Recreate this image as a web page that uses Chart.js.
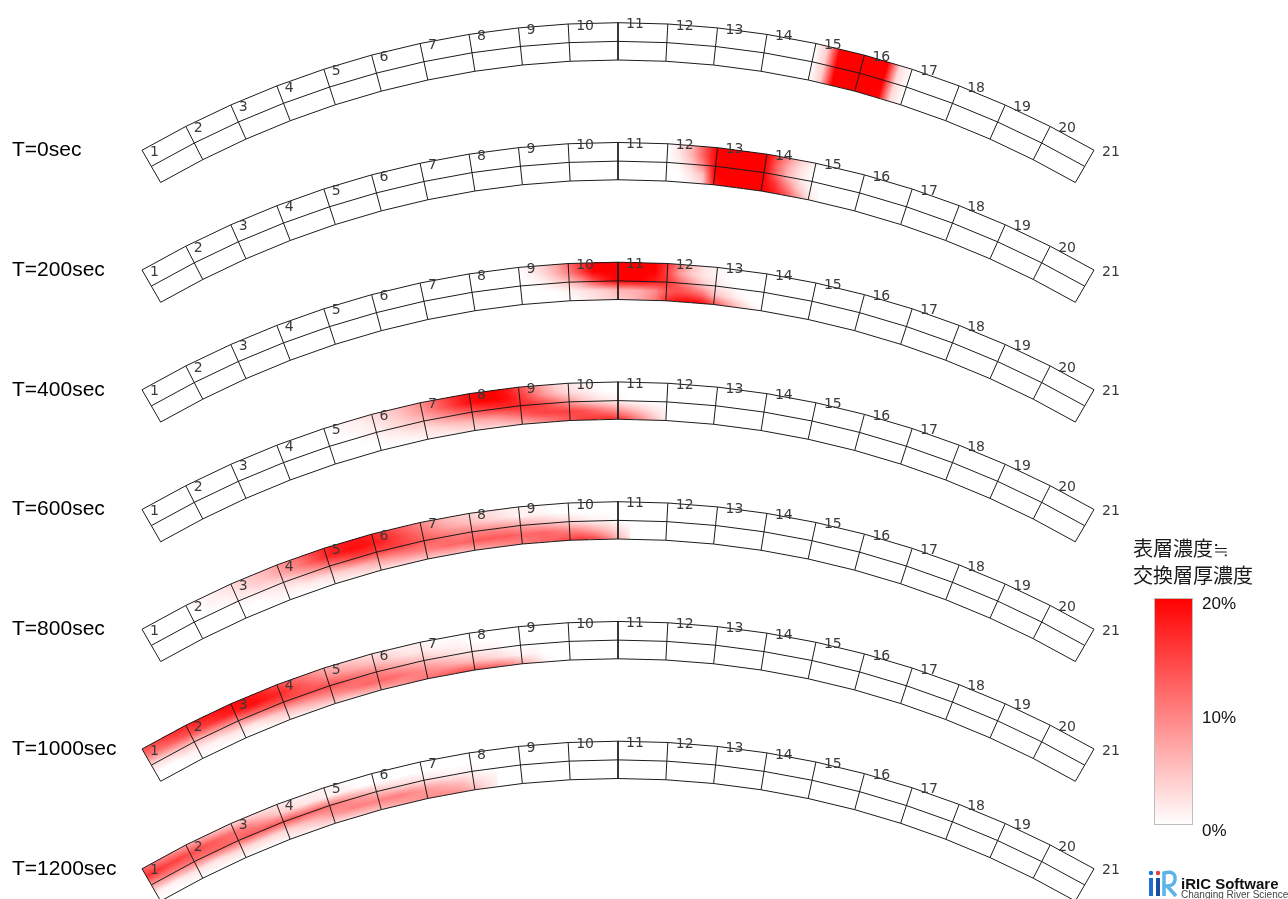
<!DOCTYPE html>
<html lang="ja">
<head>
<meta charset="UTF-8">
<title>表層濃度≒交換層厚濃度</title>
<script src="https://cdn.jsdelivr.net/npm/chart.js"></script>
<style>
  html, body { margin: 0; padding: 0; background: #fff; }
  #wrap { width: 1288px; height: 899px; position: relative; }
</style>
</head>
<body>
<div id="wrap"><canvas id="bend"></canvas></div>
<script>
// ---- data ----
const times = [0, 200, 400, 600, 800, 1000, 1200];
const timeLabels = ['T=0sec', 'T=200sec', 'T=400sec', 'T=600sec', 'T=800sec', 'T=1000sec', 'T=1200sec'];
const nodeLabels = ['1','2','3','4','5','6','7','8','9','10','11','12','13','14','15','16','17','18','19','20','21'];
const scaleTicks = [0, 10, 20];
const scaleTickLabels = ['0%', '10%', '20%'];
const maxConc = 20;

// concentration (%) read per snapshot, stations every 1/4 cell (node k = station 4(k-1)),
// rows: outer bank, 1/4, centre line, 3/4, inner bank
const start0 = 56;
const conc0 = [
  [0, 4, 20, 20, 20, 20, 20, 3, 0],
  [0, 4, 20, 20, 20, 20, 20, 3, 0],
  [0, 4, 20, 20, 20, 20, 20, 3, 0],
  [0, 4, 20, 20, 20, 20, 20, 3, 0],
  [0, 4, 20, 20, 20, 20, 20, 3, 0]
];
const start200 = 44;
const conc200 = [
  [0, 2, 6, 13, 20, 20, 20, 20, 20, 14, 8, 3, 1, 0],
  [0, 2, 6, 13, 20, 20, 20, 20, 20, 12, 6, 2, 0, 0],
  [0, 1, 4, 10, 20, 20, 20, 20, 20, 12, 5, 2, 0, 0],
  [0, 0, 2, 5, 20, 20, 20, 20, 20, 16, 10, 4, 1, 0],
  [0, 0, 1, 3, 18, 20, 20, 20, 20, 18, 14, 8, 2, 0]
];
const start400 = 32;
const conc400 = [
  [0, 2, 4, 7, 12, 16, 20, 20, 20, 20, 20, 20, 16, 10, 5, 2, 1, 0, 0, 0, 0, 0],
  [0, 1, 3, 6, 10, 15, 20, 20, 20, 20, 20, 20, 15, 8, 4, 2, 1, 0, 0, 0, 0, 0],
  [0, 0, 1, 3, 5, 8, 14, 18, 20, 20, 20, 18, 16, 12, 8, 4, 2, 1, 0, 0, 0, 0],
  [0, 0, 0, 0, 1, 2, 3, 4, 6, 6, 7, 9, 13, 14, 13, 11, 5, 3, 1, 0, 0, 0],
  [0, 0, 0, 0, 0, 1, 2, 3, 4, 5, 7, 10, 16, 19, 20, 19, 14, 9, 5, 2, 0, 0]
];
const start600 = 16;
const conc600 = [
  [0, 1, 1, 2, 3, 4, 5, 7, 9, 12, 15, 17, 19, 20, 20, 18, 14, 10, 6, 3, 2, 1, 0, 0, 0, 0, 0, 0, 0],
  [0, 0, 1, 1, 2, 3, 4, 6, 8, 11, 14, 17, 19, 20, 20, 19, 16, 12, 8, 5, 3, 2, 1, 0, 0, 0, 0, 0, 0],
  [0, 0, 0, 1, 1, 2, 3, 4, 5, 7, 9, 11, 13, 15, 16, 17, 17, 16, 14, 11, 8, 5, 3, 2, 1, 0, 0, 0, 0],
  [0, 0, 0, 0, 0, 1, 1, 2, 2, 3, 4, 5, 6, 7, 8, 10, 12, 14, 15, 15, 15, 14, 12, 10, 8, 6, 4, 2, 1],
  [0, 0, 0, 0, 0, 0, 0, 0, 1, 1, 1, 2, 2, 3, 3, 4, 5, 7, 9, 11, 13, 15, 16, 17, 16, 13, 9, 5, 1]
];
const start800 = 4;
const conc800 = [
  [0, 1, 1, 2, 3, 4, 5, 6, 8, 10, 12, 15, 17, 18, 18, 18, 17, 15, 13, 11, 9, 7, 5, 4, 3, 2, 2, 1, 1, 1, 0, 0, 0, 0, 0, 0, 0, 0],
  [0, 0, 1, 1, 2, 3, 4, 5, 7, 9, 11, 14, 17, 18, 19, 19, 18, 17, 15, 13, 11, 9, 7, 6, 5, 4, 3, 2, 1, 1, 1, 0, 0, 0, 0, 0, 0, 0],
  [0, 0, 0, 0, 1, 1, 2, 2, 3, 4, 6, 8, 10, 12, 14, 15, 15, 15, 15, 14, 13, 12, 11, 10, 10, 9, 9, 8, 7, 6, 5, 4, 3, 2, 1, 1, 0, 0],
  [0, 0, 0, 0, 0, 0, 0, 1, 1, 1, 2, 2, 3, 4, 5, 6, 7, 8, 9, 10, 10, 11, 12, 12, 13, 13, 13, 13, 12, 12, 12, 11, 10, 9, 7, 5, 3, 1],
  [0, 0, 0, 0, 0, 0, 0, 0, 0, 0, 0, 0, 1, 1, 1, 2, 2, 2, 3, 3, 4, 4, 5, 5, 6, 7, 8, 9, 10, 11, 12, 13, 15, 16, 15, 11, 6, 2]
];
const start1000 = 0;
const conc1000 = [
  [14, 15, 16, 17, 17, 18, 18, 19, 19, 19, 18, 16, 14, 12, 10, 8, 6, 5, 4, 3, 2, 2, 1, 1, 1, 0, 0, 0, 0, 0, 0, 0, 0, 0, 0, 0],
  [10, 11, 12, 13, 14, 15, 16, 17, 18, 19, 19, 18, 17, 15, 13, 11, 9, 8, 7, 6, 5, 4, 3, 2, 2, 1, 1, 1, 0, 0, 0, 0, 0, 0, 0, 0],
  [3, 3, 4, 5, 5, 6, 7, 8, 9, 11, 12, 13, 14, 14, 14, 14, 14, 13, 12, 11, 10, 8, 7, 6, 5, 4, 3, 2, 2, 1, 1, 0, 0, 0, 0, 0],
  [0, 0, 0, 1, 1, 1, 1, 2, 2, 2, 3, 4, 5, 6, 7, 8, 9, 10, 11, 12, 12, 12, 11, 10, 9, 8, 7, 6, 5, 4, 3, 2, 1, 1, 0, 0],
  [0, 0, 0, 0, 0, 0, 0, 0, 0, 0, 0, 1, 1, 1, 2, 2, 3, 3, 4, 5, 6, 7, 8, 10, 11, 12, 13, 14, 14, 13, 12, 10, 7, 4, 1, 0]
];
const start1200 = 0;
const conc1200 = [
  [12, 10, 9, 8, 7, 6, 5, 4, 3, 3, 2, 2, 2, 1, 1, 1, 1, 1, 0, 0, 0, 0, 0, 0, 0, 0, 0, 0, 0, 0, 0],
  [16, 16, 15, 15, 14, 14, 13, 12, 11, 10, 8, 6, 4, 3, 2, 2, 1, 1, 1, 0, 0, 0, 0, 0, 0, 0, 0, 0, 0, 0, 0],
  [8, 9, 10, 10, 11, 11, 12, 12, 12, 13, 13, 13, 13, 13, 12, 12, 11, 10, 8, 7, 5, 4, 3, 3, 2, 2, 1, 1, 1, 0, 0],
  [1, 1, 1, 2, 2, 2, 2, 3, 3, 3, 3, 3, 3, 4, 5, 6, 8, 9, 10, 10, 10, 10, 10, 9, 8, 7, 6, 5, 3, 2, 1],
  [0, 0, 0, 0, 0, 0, 0, 0, 0, 0, 0, 0, 1, 1, 1, 2, 2, 3, 3, 4, 5, 6, 7, 8, 9, 9, 9, 8, 6, 3, 1]
];

const starts = [start0, start200, start400, start600, start800, start1000, start1200];
const concs = [conc0, conc200, conc400, conc600, conc800, conc1000, conc1200];

// ---- geometry of the bend (chart units) ----
const R_OUT = 952;        // outer bank radius
const BAND_W = 37.3;      // channel width
const HALF_ANGLE = 30;    // degrees each side of the apex
const N_CELLS = 20;
const SUB = 4;            // stations per cell
const N_ST = N_CELLS * SUB;
const BAND_GAP = 119.75;  // vertical offset between snapshots
const X_MIN = -618, X_MAX = 670;
const Y_MAX = R_OUT + 22.7, Y_MIN = Y_MAX - 899;

function bendPoint(band, s, j) {
  const th = (-HALF_ANGLE + s * 2 * HALF_ANGLE / N_ST) * Math.PI / 180;
  const r = R_OUT - j * BAND_W / 4;
  return { x: r * Math.sin(th), y: r * Math.cos(th) - band * BAND_GAP };
}

// grid lines as datasets
const datasets = [];
for (let b = 0; b < times.length; b++) {
  for (const j of [0, 2, 4]) {
    const pts = [];
    for (let k = 0; k <= N_CELLS; k++) pts.push(bendPoint(b, k * SUB, j));
    datasets.push({ data: pts });
  }
  for (let k = 0; k <= N_CELLS; k++) {
    datasets.push({ data: [bendPoint(b, k * SUB, 0), bendPoint(b, k * SUB, 4)] });
  }
}
datasets.forEach(d => {
  d.showLine = true;
  d.borderColor = '#1c1c1c';
  d.borderWidth = 1;
  d.pointRadius = 0;
  d.fill = false;
  d.tension = 0;
});

function concColor(v) {
  const t = Math.min(v / maxConc, 1);
  const g = Math.round(255 * (1 - t));
  return 'rgb(255,' + g + ',' + g + ')';
}

// bilinear value of a snapshot at station s, transverse position j
function sample(b, s, j) {
  const rows = concs[b], n = rows[0].length;
  const fs = s - starts[b];
  if (fs < 0 || fs > n - 1) return 0;
  let i = Math.floor(fs); if (i >= n - 1) i = n - 2;
  let k = Math.floor(j); if (k >= 4) k = 3;
  const u = fs - i, v = j - k;
  return (rows[k][i] * (1 - u) + rows[k][i + 1] * u) * (1 - v) +
         (rows[k + 1][i] * (1 - u) + rows[k + 1][i + 1] * u) * v;
}

// red field, drawn under the grid
const fieldPlugin = {
  id: 'field',
  beforeDatasetsDraw(chart) {
    const xs = chart.scales.x, ys = chart.scales.y;
    const W = chart.width, H = chart.height;
    const off = document.createElement('canvas');
    off.width = W; off.height = H;
    const octx = off.getContext('2d');
    const img = octx.createImageData(W, H);
    const colX = [];
    for (let p = 0; p < W; p++) colX.push(xs.getValueForPixel(p + 0.5));
    for (let py = 0; py < H; py++) {
      const y = ys.getValueForPixel(py + 0.5);
      for (let p = 0; p < W; p++) {
        const x = colX[p];
        for (let b = 0; b < times.length; b++) {
          const yy = y + b * BAND_GAP;
          const r = Math.sqrt(x * x + yy * yy);
          const j = (R_OUT - r) / (BAND_W / 4);
          if (j < 0 || j > 4) continue;
          const s = (Math.atan2(x, yy) * 180 / Math.PI + HALF_ANGLE) / (2 * HALF_ANGLE) * N_ST;
          if (s < 0 || s > N_ST) continue;
          const v = sample(b, s, j);
          if (v > 0.1) {
            const t = Math.min(v / maxConc, 1);
            const g = Math.round(255 * (1 - t));
            const o = (py * W + p) * 4;
            img.data[o] = 255; img.data[o + 1] = g; img.data[o + 2] = g; img.data[o + 3] = 255;
          }
          break;
        }
      }
    }
    octx.putImageData(img, 0, 0);
    chart.ctx.drawImage(off, 0, 0, W, H);
  }
};

// node numbers, time labels, colour scale, logo
const labelPlugin = {
  id: 'labels',
  afterDatasetsDraw(chart) {
    const ctx = chart.ctx, xs = chart.scales.x, ys = chart.scales.y;
    ctx.save();
    ctx.textBaseline = 'middle';
    ctx.textAlign = 'left';
    for (let b = 0; b < times.length; b++) {
      ctx.font = '14px "DejaVu Sans"';
      ctx.fillStyle = '#3a3a3a';
      for (let k = 0; k < nodeLabels.length; k++) {
        const p = bendPoint(b, k * SUB, 0);
        ctx.fillText(nodeLabels[k], xs.getPixelForValue(p.x) + 8, ys.getPixelForValue(p.y) + 2);
      }
      const p0 = bendPoint(b, 0, 0);
      ctx.font = '21px "Liberation Sans", Arial, sans-serif';
      ctx.fillStyle = '#000';
      ctx.fillText(timeLabels[b], 12, ys.getPixelForValue(p0.y));
    }

    // colour scale
    const bx = 1154, bw = 39, top = 598, bottom = 825;
    const grad = ctx.createLinearGradient(0, top, 0, bottom);
    grad.addColorStop(0, concColor(maxConc));
    grad.addColorStop(1, concColor(0));
    ctx.fillStyle = grad;
    ctx.fillRect(bx, top, bw, bottom - top);
    ctx.strokeStyle = '#bdbdbd';
    ctx.lineWidth = 1;
    ctx.strokeRect(bx + 0.5, top + 0.5, bw - 1, bottom - top - 1);
    ctx.fillStyle = '#111';
    ctx.font = '17px "Liberation Sans", Arial, sans-serif';
    for (let i = 0; i < scaleTicks.length; i++) {
      const y = bottom - scaleTicks[i] / maxConc * (bottom - top);
      ctx.fillText(scaleTickLabels[i], 1202, y + 6.5);
    }
    ctx.font = '20px "Noto Sans CJK JP"';
    ctx.fillStyle = '#1a1a1a';
    ctx.fillText('表層濃度≒', 1133, 548);
    ctx.fillText('交換層厚濃度', 1133, 575);

    // logo
    ctx.fillStyle = '#1e6fd0';
    ctx.beginPath(); ctx.arc(1151, 873, 2.2, 0, Math.PI * 2); ctx.fill();
    ctx.fillStyle = '#e0403a';
    ctx.beginPath(); ctx.arc(1158, 873, 2.2, 0, Math.PI * 2); ctx.fill();
    ctx.fillStyle = '#1e6fd0';
    ctx.fillRect(1149, 878, 4, 18);
    ctx.fillStyle = '#1a4fa0';
    ctx.fillRect(1156, 878, 4, 18);
    ctx.strokeStyle = '#5ab4e8';
    ctx.lineWidth = 3.5;
    ctx.beginPath();
    ctx.moveTo(1164, 896);
    ctx.lineTo(1164, 873);
    ctx.quadraticCurveTo(1176, 870, 1175, 880);
    ctx.quadraticCurveTo(1174, 886, 1167, 886);
    ctx.lineTo(1176, 896);
    ctx.stroke();
    ctx.fillStyle = '#111';
    ctx.font = 'bold 15px "Liberation Sans", Arial, sans-serif';
    ctx.textBaseline = 'alphabetic';
    ctx.fillText('iRIC Software', 1181, 889);
    ctx.fillStyle = '#444';
    ctx.font = '10px "Liberation Sans", Arial, sans-serif';
    ctx.fillText('Changing River Science', 1181, 898);
    ctx.restore();
  }
};

const grafico = new Chart(document.getElementById('bend'), {
  type: 'scatter',
  data: { datasets: datasets },
  options: {
    animation: false,
    responsive: true,
    maintainAspectRatio: false,
    events: [],
    layout: { padding: 0 },
    plugins: { legend: { display: false }, tooltip: { enabled: false } },
    scales: {
      x: { type: 'linear', display: false, min: X_MIN, max: X_MAX },
      y: { type: 'linear', display: false, min: Y_MIN, max: Y_MAX }
    }
  },
  plugins: [fieldPlugin, labelPlugin]
});
</script>
</body>
</html>
